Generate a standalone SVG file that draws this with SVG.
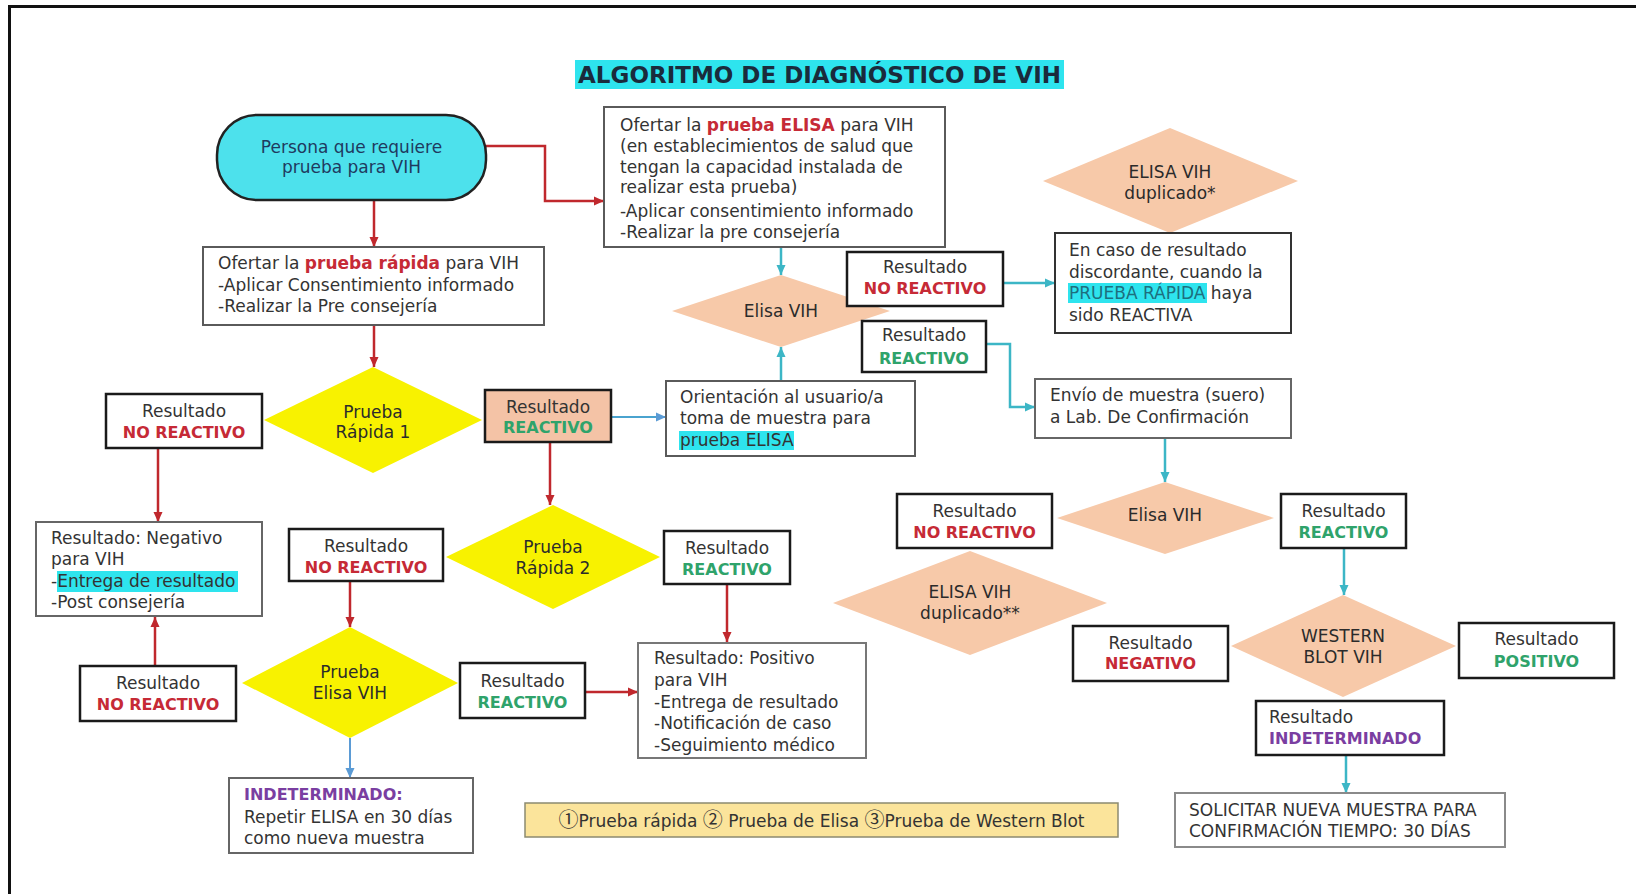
<svg xmlns="http://www.w3.org/2000/svg" width="1636" height="894" viewBox="0 0 1636 894">
<style>
text{font-family:"DejaVu Sans","Liberation Sans",sans-serif;font-size:17px;fill:#333}
.c{text-anchor:middle}
.b{font-weight:bold}
.red{fill:#c62a36}
.grn{fill:#2fa36b}
.pur{fill:#7a3ea1}
.dk{fill:#2b2b2b}
.num{font-family:"Noto Sans CJK JP","DejaVu Sans",sans-serif;font-size:20px}
.box{fill:#fff;stroke:#5a5a5a;stroke-width:2}
.res{fill:#fff;stroke:#1a1a1a;stroke-width:2.5}
.yel{fill:#f8f200}
.pch{fill:#f7c9a9}
.hl{fill:#2ee4ee}
.cr{fill:none;stroke:#c0282d;stroke-width:2.5;marker-end:url(#ar)}
.cc{fill:none;stroke:#3cb6c6;stroke-width:2.5;marker-end:url(#ac)}
.cb{fill:none;stroke:#5b9bd5;stroke-width:2;marker-end:url(#ab)}
</style>
<defs>
<marker id="ar" markerUnits="userSpaceOnUse" markerWidth="10" markerHeight="10" refX="10" refY="5" orient="auto"><path d="M0,0.5 L10,5 L0,9.5 z" fill="#c0282d"/></marker>
<marker id="ac" markerUnits="userSpaceOnUse" markerWidth="10" markerHeight="10" refX="10" refY="5" orient="auto"><path d="M0,0.5 L10,5 L0,9.5 z" fill="#3cb6c6"/></marker>
<marker id="ab" markerUnits="userSpaceOnUse" markerWidth="10" markerHeight="10" refX="10" refY="5" orient="auto"><path d="M0,0.5 L10,5 L0,9.5 z" fill="#5b9bd5"/></marker>
</defs>
<rect width="1636" height="894" fill="#fff"/>
<path d="M9.5,894 V6.5 H1636" fill="none" stroke="#111" stroke-width="3"/>

<g id="title">
<rect x="575" y="60" width="489" height="29" class="hl"/>
<text x="819.5" y="83" class="c b" style="font-size:23px;fill:#1a2b3c">ALGORITMO DE DIAGNÓSTICO DE VIH</text>
</g>

<g id="connectors">
<path class="cr" d="M486,146 H545 V201 H604"/>
<path class="cr" d="M374,200 V247"/>
<path class="cr" d="M374,325 V367"/>
<path class="cr" d="M158,448 V522"/>
<path class="cr" d="M550,442 V505"/>
<path class="cr" d="M350,581 V627"/>
<path class="cr" d="M727,584 V642"/>
<path class="cr" d="M155,666 V617"/>
<path class="cr" d="M585,692 H638"/>
<path class="cb" d="M350,738 V778"/>
<path class="cb" d="M611,417 H666" style="stroke:#4aa3cf"/>
<path class="cc" d="M781,247 V275"/>
<path class="cc" d="M781,381 V347"/>
<path class="cc" d="M1003,283 H1055"/>
<path class="cc" d="M986,344 H1010 V407 H1035"/>
<path class="cc" d="M1165,439 V482"/>
<path class="cc" d="M1344,548 V595"/>
<path class="cc" d="M1346,755 V793"/>
</g>

<g id="persona">
<rect x="217" y="115" width="269" height="85" rx="40" fill="#4de1ec" stroke="#222" stroke-width="2.5"/>
<text x="351.5" y="153" class="c" style="fill:#1f3a5f">Persona que requiere</text>
<text x="351.5" y="173" class="c" style="fill:#1f3a5f">prueba para VIH</text>
</g>

<g id="ofertar-rapida">
<rect x="203" y="247" width="341" height="78" class="box"/>
<text x="218" y="269">Ofertar la <tspan class="b red">prueba rápida</tspan> para VIH</text>
<text x="218" y="291">-Aplicar Consentimiento informado</text>
<text x="218" y="312">-Realizar la Pre consejería</text>
</g>

<g id="ofertar-elisa">
<rect x="604" y="107" width="341" height="140" class="box"/>
<text x="620" y="131">Ofertar la <tspan class="b red">prueba ELISA</tspan> para VIH</text>
<text x="620" y="152">(en establecimientos de salud que</text>
<text x="620" y="173">tengan la capacidad instalada de</text>
<text x="620" y="193">realizar esta prueba)</text>
<text x="620" y="217">-Aplicar consentimiento informado</text>
<text x="620" y="238">-Realizar la pre consejería</text>
</g>

<g id="elisa-vih-1">
<polygon points="781,275 890,311 781,347 672,311" class="pch"/>
<text x="781" y="317" class="c dk">Elisa VIH</text>
</g>

<g id="res-noreact-top">
<rect x="847" y="252" width="156" height="54" class="res"/>
<text x="925" y="273" class="c">Resultado</text>
<text x="925" y="294" class="c b red" style="font-size:16px">NO REACTIVO</text>
</g>

<g id="elisa-dup-1">
<polygon points="1170,128 1298,181 1170,233 1043,181" class="pch"/>
<text x="1170" y="178" class="c dk">ELISA VIH</text>
<text x="1170" y="199" class="c dk">duplicado*</text>
</g>

<g id="discordante">
<rect x="1055" y="233" width="236" height="100" class="box" style="stroke:#333"/>
<rect x="1068" y="283" width="139" height="20" class="hl"/>
<text x="1069" y="256">En caso de resultado</text>
<text x="1069" y="278">discordante, cuando la</text>
<text x="1069" y="299"><tspan style="fill:#1d6f7e">PRUEBA RÁPIDA</tspan> haya</text>
<text x="1069" y="321">sido REACTIVA</text>
</g>

<g id="res-react-mid">
<rect x="862" y="321" width="124" height="51" class="res"/>
<text x="924" y="341" class="c">Resultado</text>
<text x="924" y="364" class="c b grn" style="font-size:16px">REACTIVO</text>
</g>

<g id="envio">
<rect x="1035" y="379" width="256" height="59" class="box" style="stroke:#666"/>
<text x="1050" y="401">Envío de muestra (suero)</text>
<text x="1050" y="423">a Lab. De Confirmación</text>
</g>

<g id="elisa-vih-2">
<polygon points="1165,482 1274,518 1165,554 1057,518" class="pch"/>
<text x="1165" y="521" class="c dk">Elisa VIH</text>
</g>

<g id="res-noreact-right">
<rect x="897" y="494" width="155" height="54" class="res"/>
<text x="974.5" y="517" class="c">Resultado</text>
<text x="974.5" y="538" class="c b red" style="font-size:16px">NO REACTIVO</text>
</g>

<g id="res-react-right">
<rect x="1281" y="494" width="125" height="54" class="res"/>
<text x="1343.5" y="517" class="c">Resultado</text>
<text x="1343.5" y="538" class="c b grn" style="font-size:16px">REACTIVO</text>
</g>

<g id="elisa-dup-2">
<polygon points="970,551 1107,603 970,655 833,603" class="pch"/>
<text x="970" y="598" class="c dk">ELISA VIH</text>
<text x="970" y="619" class="c dk">duplicado**</text>
</g>

<g id="western">
<polygon points="1343,595 1456,646 1343,697 1231,646" class="pch"/>
<text x="1343" y="642" class="c dk">WESTERN</text>
<text x="1343" y="663" class="c dk">BLOT VIH</text>
</g>

<g id="res-negativo">
<rect x="1073" y="626" width="155" height="55" class="res"/>
<text x="1150.5" y="649" class="c">Resultado</text>
<text x="1150.5" y="669" class="c b red" style="font-size:16px">NEGATIVO</text>
</g>

<g id="res-positivo">
<rect x="1459" y="623" width="155" height="55" class="res"/>
<text x="1536.5" y="645" class="c">Resultado</text>
<text x="1536.5" y="667" class="c b grn" style="font-size:16px">POSITIVO</text>
</g>

<g id="res-indeterminado">
<rect x="1256" y="701" width="188" height="54" class="res"/>
<text x="1269" y="723">Resultado</text>
<text x="1269" y="744" class="b pur" style="font-size:16px">INDETERMINADO</text>
</g>

<g id="solicitar">
<rect x="1175" y="793" width="330" height="54" class="box" style="stroke:#8a8a8a"/>
<text x="1189" y="816">SOLICITAR NUEVA MUESTRA PARA</text>
<text x="1189" y="837">CONFIRMACIÓN TIEMPO: 30 DÍAS</text>
</g>

<g id="leyenda">
<rect x="525" y="803" width="593" height="34" fill="#fbe49b" stroke="#8c8a70" stroke-width="1.5"/>
<text x="821.5" y="827" class="c"><tspan class="num">①</tspan>Prueba rápida <tspan class="num">②</tspan> Prueba de Elisa <tspan class="num">③</tspan>Prueba de Western Blot</text>
</g>

<g id="prueba-rapida-1">
<polygon points="373,367 482,420 373,473 264,420" class="yel"/>
<text x="373" y="418" class="c dk">Prueba</text>
<text x="373" y="438" class="c dk">Rápida 1</text>
</g>

<g id="res-noreact-1">
<rect x="106" y="394" width="156" height="54" class="res"/>
<text x="184" y="417" class="c">Resultado</text>
<text x="184" y="438" class="c b red" style="font-size:16px">NO REACTIVO</text>
</g>

<g id="negativo">
<rect x="36" y="522" width="226" height="94" class="box" style="stroke:#666"/>
<rect x="57" y="571" width="181" height="21" class="hl"/>
<text x="51" y="544">Resultado: Negativo</text>
<text x="51" y="565">para VIH</text>
<text x="51" y="587">-Entrega de resultado</text>
<text x="51" y="608">-Post consejería</text>
</g>

<g id="res-react-1">
<rect x="485" y="390" width="126" height="52" fill="#f4c3a6" stroke="#1a1a1a" stroke-width="2.5"/>
<text x="548" y="413" class="c">Resultado</text>
<text x="548" y="433" class="c b grn" style="font-size:16px">REACTIVO</text>
</g>

<g id="orientacion">
<rect x="666" y="381" width="249" height="75" class="box"/>
<rect x="679" y="431" width="115" height="19" class="hl"/>
<text x="680" y="403">Orientación al usuario/a</text>
<text x="680" y="424">toma de muestra para</text>
<text x="680" y="446">prueba ELISA</text>
</g>

<g id="prueba-rapida-2">
<polygon points="553,505 660,557 553,609 446,557" class="yel"/>
<text x="553" y="553" class="c dk">Prueba</text>
<text x="553" y="574" class="c dk">Rápida 2</text>
</g>

<g id="res-noreact-2">
<rect x="289" y="529" width="154" height="52" class="res"/>
<text x="366" y="552" class="c">Resultado</text>
<text x="366" y="573" class="c b red" style="font-size:16px">NO REACTIVO</text>
</g>

<g id="res-react-2">
<rect x="664" y="531" width="126" height="53" class="res"/>
<text x="727" y="554" class="c">Resultado</text>
<text x="727" y="575" class="c b grn" style="font-size:16px">REACTIVO</text>
</g>

<g id="prueba-elisa">
<polygon points="350,627 458,683 350,738 242,683" class="yel"/>
<text x="350" y="678" class="c dk">Prueba</text>
<text x="350" y="699" class="c dk">Elisa VIH</text>
</g>

<g id="res-noreact-3">
<rect x="80" y="666" width="156" height="55" class="res"/>
<text x="158" y="689" class="c">Resultado</text>
<text x="158" y="710" class="c b red" style="font-size:16px">NO REACTIVO</text>
</g>

<g id="res-react-3">
<rect x="460" y="663" width="125" height="55" class="res"/>
<text x="522.5" y="687" class="c">Resultado</text>
<text x="522.5" y="708" class="c b grn" style="font-size:16px">REACTIVO</text>
</g>

<g id="positivo">
<rect x="638" y="643" width="228" height="115" class="box" style="stroke:#777"/>
<text x="654" y="664">Resultado: Positivo</text>
<text x="654" y="686">para VIH</text>
<text x="654" y="708">-Entrega de resultado</text>
<text x="654" y="729">-Notificación de caso</text>
<text x="654" y="751">-Seguimiento médico</text>
</g>

<g id="indeterminado">
<rect x="229" y="778" width="244" height="75" class="box" style="stroke:#666"/>
<text x="244" y="800" class="b pur" style="font-size:16px">INDETERMINADO:</text>
<text x="244" y="823">Repetir ELISA en 30 días</text>
<text x="244" y="844">como nueva muestra</text>
</g>
</svg>
